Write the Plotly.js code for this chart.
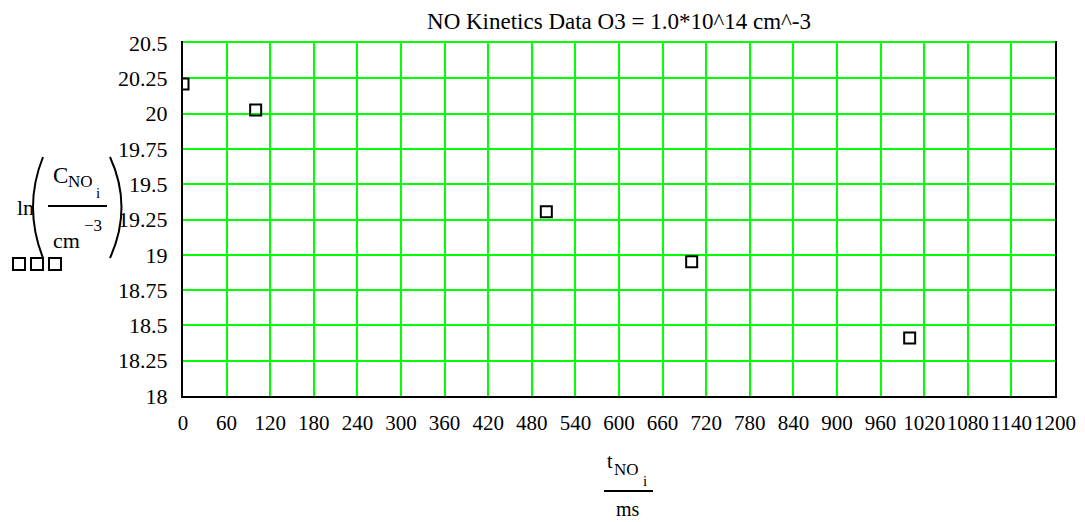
<!DOCTYPE html>
<html>
<head>
<meta charset="utf-8">
<script src="https://cdn.plot.ly/plotly-3.0.1.min.js"></script>
<style>html,body{margin:0;padding:0;background:#fff;}#chart{width:1085px;height:522px;}</style>
</head>
<body>
<div id="chart"></div>
<script>
// ---- data ----
const tNO = [0, 100, 500, 700, 1000];            // ms
const lnCNO = [20.21, 20.025, 19.305, 18.95, 18.41];
const xTicks = [0,60,120,180,240,300,360,420,480,540,600,660,720,780,840,900,960,1020,1080,1140,1200];
const yTicks = [18,18.25,18.5,18.75,19,19.25,19.5,19.75,20,20.25,20.5];
const yTickText = ["18","18.25","18.5","18.75","19","19.25","19.5","19.75","20","20.25","20.5"];
const titleText = "NO Kinetics Data O3 = 1.0*10^14 cm^-3";

// ---- layout helpers (pixel -> paper) ----
const L = 183, R = 1055, T = 43, B = 396;
const W = R - L, H = B - T;
const px = x => (x - L) / W;
const py = y => (B - y) / H;
const FONT = "Liberation Serif, Times New Roman, serif";

function ann(text, x, y, size) {
  return {text: text, x: px(x), y: py(y), xref: 'paper', yref: 'paper',
          xanchor: 'center', yanchor: 'middle', showarrow: false, borderpad: 0,
          font: {family: FONT, size: size, color: '#000'}};
}
function line(x0, y0, x1, y1, color, w) {
  return {type: 'line', xref: 'paper', yref: 'paper', x0: px(x0), y0: py(y0), x1: px(x1), y1: py(y1),
          line: {color: color, width: w}};
}
function curve(x0, y0, cx, cy, x1, y1) {
  return {type: 'path', xref: 'paper', yref: 'paper',
          path: 'M ' + px(x0) + ',' + py(y0) + ' Q ' + px(cx) + ',' + py(cy) + ' ' + px(x1) + ',' + py(y1),
          line: {color: '#000', width: 2}};
}
function box(x0, y0, s) {
  return {type: 'rect', xref: 'paper', yref: 'paper', x0: px(x0), y0: py(y0), x1: px(x0 + s), y1: py(y0 + s),
          line: {color: '#000', width: 2}, fillcolor: 'rgba(0,0,0,0)'};
}

const trace = {
  x: tNO, y: lnCNO, type: 'scatter', mode: 'markers',
  marker: {symbol: 'square-open', size: 11, color: '#000', line: {width: 2, color: '#000'}},
  hoverinfo: 'skip', cliponaxis: true
};

const layout = {
  width: 1085, height: 522,
  margin: {l: L, r: 1085 - R, t: T, b: 522 - B, pad: 0},
  paper_bgcolor: '#fff', plot_bgcolor: '#fff',
  showlegend: false,
  font: {family: FONT, size: 21, color: '#000'},
  title: {text: titleText, font: {family: FONT, size: 23, color: '#000'},
          xref: 'paper', x: 0.5, xanchor: 'center', yref: 'container', y: 1 - 21 / 522, yanchor: 'middle'},
  xaxis: {
    range: [0, 1200], tickvals: xTicks, ticktext: xTicks.map(String), tickangle: 0,
    showgrid: true, gridcolor: '#00ff00', gridwidth: 2,
    showline: true, linecolor: '#000', linewidth: 2, mirror: true,
    zeroline: false, ticks: '', ticklabelstandoff: 7,
    tickfont: {family: FONT, size: 21, color: '#000'}, fixedrange: true
  },
  yaxis: {
    range: [18, 20.5], tickvals: yTicks, ticktext: yTickText,
    showgrid: true, gridcolor: '#00ff00', gridwidth: 2,
    showline: true, linecolor: '#000', linewidth: 2, mirror: true,
    zeroline: false, ticks: '', ticklabelstandoff: 9,
    tickfont: {family: FONT, size: 22, color: '#000'}, fixedrange: true
  },
  annotations: [
    // y-axis label: ln( C_NO_i / cm^-3 )
    ann('ln', 25, 207, 22),
    ann('C', 60, 175, 23),
    ann('NO', 80, 182, 17),
    ann('i', 97.5, 193, 15),
    ann('cm', 66, 240, 22),
    ann('\u22123', 93, 225, 17),
    // x-axis label: t_NO_i / ms
    ann('t', 610, 461, 20),
    ann('NO', 626, 469, 17),
    ann('i', 645, 481, 15),
    ann('ms', 628, 509, 20)
  ],
  shapes: [
    line(L, 42, R, 42, '#00ff00', 2),
    line(48, 206, 107, 206, '#000', 2),
    curve(43, 157, 23, 207, 43, 258),
    curve(110, 157, 133, 207, 110, 258),
    box(13, 258, 12), box(31, 258, 12), box(49, 258, 12),
    line(604, 491, 653, 491, '#000', 2)
  ]
};

Plotly.newPlot('chart', [trace], layout, {displayModeBar: false, staticPlot: true});
</script>
</body>
</html>
